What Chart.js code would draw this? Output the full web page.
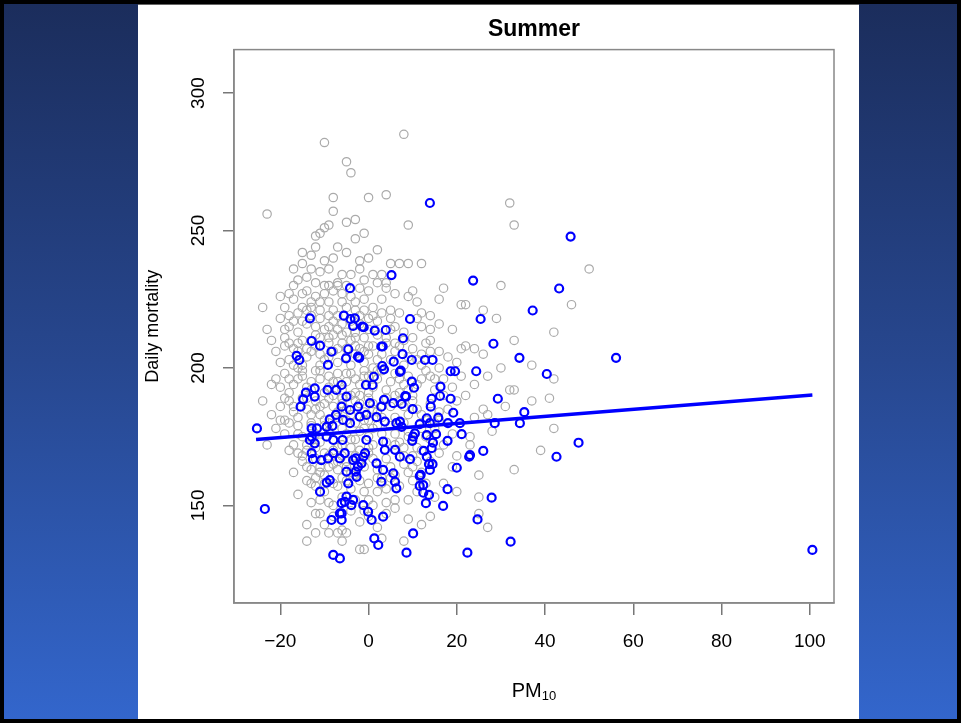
<!DOCTYPE html>
<html>
<head>
<meta charset="utf-8">
<script src="https://cdn.jsdelivr.net/npm/chart.js@4.4.0/dist/chart.umd.min.js"></script>
<style>
  html, body { margin: 0; padding: 0; }
  body { width: 961px; height: 723px; position: relative; overflow: hidden; background: #000; }
  .side { position: absolute; top: 4px; bottom: 4px; background: linear-gradient(#1b2d5c, #27478f 50%, #3366cc); }
  #left { left: 4px; width: 134px; }
  #right { left: 859px; right: 4px; }
  #panel { position: absolute; left: 138px; width: 721px; top: 4px; bottom: 4px; background: #fff; border-top: 1px solid #666; }
  #chart { position: absolute; left: 0; top: 0; }
</style>
</head>
<body>
<div class="side" id="left"></div>
<div class="side" id="right"></div>
<div id="panel"></div>
<canvas id="chart" width="961" height="723"></canvas>
<script>
// ticks
const xTicks = [-20, 0, 20, 40, 60, 80, 100];
const yTicks = [150, 200, 250, 300];

// all summer days [PM10, deaths] (grey)
const otherDays = [
  [-10,282],[8,285],[-5,275],[-4,271],[-8,262],[0,262],[4,263],[32,260],
  [-23,256],[-8,257],[-5,253],[-3,254],[-9,252],[-10,251],[9,252],[33,252],[-11,249],[-12,248],[-1,249],
  [-3,247],[-12,244],[-7,244],[-15,242],[-5,242],[0,240],[-2,239],[-10,239],[-13,241],[-8,240],[2,243],
  [-15,238],[-17,236],[-16,232],[-11,235],[-9,236],[-6,234],[-4,234],[-2,236],[1,234],[3,234],[5,238],
  [7,238],[9,238],[12,238],[50,236],[-14,233],[-7,231],[-1,232],[4,231],[-13,236],
  [-12,231],[-10,230],[-9,230],[-7,230],[-5,230],[-2,229],[0,228],[2,231],[4,229],[10,228],[17,229],
  [16,225],[30,230],[-18,227],[-17,225],[-15,227],[-13,224],[-11,224],[-9,224],[-6,224],[-24,222],
  [21,223],[22,223],[46,223],[9,226],[11,224],[26,221],[12,220],[14,219],[7,220],[-3,221],[1,222],
  [5,221],[-1,225],[3,225],[-19,222],[-16,220],[-14,221],[-8,221],[-4,226],[-20,226],[6,227],
  [29,218],[14,214],[19,214],[42,213],[33,210],[-23,214],[-22,210],[-20,218],[-18,215],[-16,213],
  [-14,216],[-12,212],[-10,214],[-8,217],[-6,212],[-4,210],[-2,216],[0,214],[2,217],[4,211],[6,215],
  [8,213],[10,211],[12,215],[-19,211],[-17,217],[-11,218],[-7,214],[-3,213],[1,219],[5,218],[-13,219],
  [-9,211],[-1,211],[16,216],[11,218],[-15,210],
  [16,206],[22,208],[21,207],[37,201],[30,200],[-21,206],[-19,208],[-18,203],[-16,206],[-14,204],
  [-12,208],[-10,203],[-8,206],[-6,209],[-4,201],[-2,207],[0,205],[2,203],[4,209],[6,206],[8,201],
  [10,207],[12,201],[14,206],[18,204],[20,202],[-17,201],[-13,206],[-11,201],[-9,209],[-7,202],
  [-5,204],[-3,208],[-1,202],[1,208],[3,205],[5,203],[7,208],[9,204],[11,203],[-15,201],[-20,202],
  [13,209],[26,205],[24,207],
  [42,196],[24,194],[32,192],[33,192],[-21,196],[-19,198],[-17,194],[-15,199],[-13,192],[-11,196],
  [-9,193],[-7,198],[-5,195],[-3,191],[-1,197],[1,193],[3,199],[5,195],[7,191],[9,197],[11,194],
  [13,199],[15,192],[17,196],[19,193],[21,197],[-18,191],[-16,196],[-14,193],[-12,199],[-10,191],
  [-8,195],[-6,192],[-4,198],[-2,194],[0,191],[2,196],[4,192],[6,198],[8,194],[10,190],[12,196],
  [14,197],[-20,193],[27,197],[-22,194],
  [41,189],[37,188],[22,190],[26,185],[27,183],[-22,183],[-20,186],[-18,188],[-16,182],[-14,185],
  [-12,188],[-10,181],[-8,186],[-6,189],[-4,183],[-2,187],[0,181],[2,184],[4,189],[6,182],[8,186],
  [10,188],[12,183],[14,187],[16,181],[18,185],[20,188],[-19,181],[-17,184],[-15,189],[-13,183],
  [-11,186],[-9,189],[-7,182],[-5,185],[-3,188],[-1,184],[1,187],[3,182],[5,186],[7,188],[9,183],
  [11,185],[13,181],[24,182],[31,186],[-24,188],
  [-19,176],[-17,172],[-21,178],[-15,175],[-13,179],[-11,173],[-9,177],[-7,171],[-5,176],[-3,174],
  [-1,178],[1,172],[3,176],[5,179],[7,173],[9,177],[11,171],[13,175],[15,178],[17,172],[19,176],
  [23,175],[42,178],[-16,179],[-14,172],[-12,176],[-10,179],[-8,174],[-6,178],[-4,171],[-2,177],
  [0,175],[2,179],[4,173],[6,176],[8,171],[10,174],[12,178],[-23,172],[28,177],[23,172],[-18,170],
  [-16,169],[-14,164],[-13,163],[-12,167],[-10,161],[-8,165],[-6,168],[-4,162],[-2,166],[0,169],
  [2,163],[4,167],[6,161],[8,165],[10,168],[12,162],[14,166],[16,169],[19,164],[39,170],[33,163],
  [-15,166],[-11,164],[-9,168],[-7,163],[-5,166],[-3,161],[-1,164],[1,167],[3,160],[5,164],[7,168],
  [9,162],[11,166],[20,168],[-17,162],[25,161],
  [17,158],[25,153],[-12,157],[-13,151],[-11,152],[-10,155],[-8,158],[-6,153],[-4,156],[-2,159],
  [0,152],[2,155],[4,151],[6,152],[7,157],[9,152],[11,155],[13,158],[15,153],[-14,159],[-9,151],
  [-5,159],[-1,155],[3,158],[10,159],[-16,154],[20,155],
  [25,147],[14,146],[9,145],[6,149],[-12,147],[-10,143],[-8,146],[-6,141],[-4,148],[-2,144],[0,146],
  [2,142],[4,147],[-14,143],[12,143],[27,142],
  [-14,137],[-12,140],[-7,140],[-6,137],[-5,140],[-2,134],[-1,134],[3,138],[8,137],
  // denser core of the cloud
  [-14,228],[-12,226],[-10,227],[-8,228],[-6,227],[-13,222],[-11,221],[-9,219],[-7,219],[-5,222],
  [-3,224],[-15,217],[-12,215],[-9,215],[-6,216],[-4,217],[-2,219],[-16,209],[-13,210],[-11,211],
  [-8,212],[-5,213],[-3,211],[-14,207],[-11,205],[-9,204],[-7,207],[-5,207],[-3,205],[-1,206],
  [-15,197],[-13,195],[-11,199],[-9,197],[-7,195],[-5,198],[-3,196],[-1,199],[-14,189],[-12,185],
  [-10,187],[-8,190],[-6,187],[-4,190],[-2,190],[-13,180],[-11,183],[-9,180],[-7,184],[-5,181],
  [-3,180],[-12,171],[-10,169],[-8,170],[-6,172],[-4,174],[-11,162],[-9,164],[-7,166],[-5,164],
  [-3,168],[-10,158],[-7,157],[-12,160],[-6,160],[-15,222],[-17,230],[-18,219],[-19,214],[-18,209],
  [-17,207],[-16,200],[-18,196],[-19,189],[-17,186],[-18,180],[-20,181],[-16,176],[-15,168],[-14,170],
  [-13,158],[-11,147],[-9,140],[-8,150],[-3,152],[-1,148],[1,150],[0,158],[2,160],[4,156],
  [5,160],[-2,170],[0,171],[1,178],[-1,181],[1,185],[0,189],[1,200],[0,197],[2,199],
  [0,208],[2,212],[0,218],[-1,221],[3,220],[5,214],[6,209],[8,210],[7,196],[9,192],
  [6,190],[8,180],[9,175],[6,172],[8,168],[10,164],[12,170],[14,174],[15,180],[16,184],
  [17,190],[15,196],[16,200],[12,205],[14,210]
];

// highlighted days (blue)
const highDays = [
  [13.9,260],[45.8,247.8],[23.7,231.8],[43.2,228.9],[37.2,220.9],[25.4,217.8],[9.4,217.8],[7.8,210.8],
  [28.3,208.8],[56.1,203.7],[34.2,203.7],[40.4,197.8],[24.4,198.8],[18.6,198.8],[19.6,198.8],[9.8,202.9],
  [12.8,202.9],[14.5,202.9],[7.7,205],[7.1,198.6],[9.8,195],[10.3,192.8],[16.3,193.2],[8.3,189.8],
  [14.3,188.8],[18.6,188.8],[16.2,189.8],[29.3,188.8],[10,185],[14.1,185.9],[19.2,183.7],[35.3,183.9],
  [7.1,180.5],[11.6,179.6],[13.9,179.9],[15.8,181.9],[18,179.9],[20.7,179.9],[28.6,179.9],[34.3,179.9],
  [10.5,176.2],[15.3,175.9],[21.1,175.9],[9.9,173.5],[14.6,172.8],[17.9,173.5],[47.6,172.8],[12.5,169.8],
  [14.3,170.8],[26,169.8],[22.8,167.7],[42.6,167.7],[9.4,166.8],[13.7,165],[14.5,165],[13.9,162.9],
  [20,163.7],[11.6,160.7],[11.6,157.1],[12.4,154.6],[13.7,153.8],[17.9,155.9],[13,150.8],[16.9,149.8],
  [27.9,152.8],[24.7,144.9],[10.1,139.8],[32.2,136.8],[8.6,132.8],[22.4,132.8],[100.6,133.8],
  [5.2,233.8],[-4.2,229],[-13.3,218],[-5.6,219],[-4.1,217.8],[-3.5,215.3],[-1.1,214.8],[1.4,213.6],
  [3.9,213.8],[3.2,207.8],[-12.9,209.8],[-11,208.1],[-8.4,205.9],[-4.6,206.8],[-5.1,203.5],[-2.1,203.7],
  [-16.3,204.4],[-15.7,202.9],[-9.2,201.1],[3.1,200.7],[3.5,199.5],[5.7,202.3],[7.3,199],[1.2,196.8],
  [0.9,193.8],[-0.6,193.8],[-12.2,192.6],[-14.2,191],[-14.8,188.6],[-15.4,185.9],[-12.2,189.6],[-9.3,192],
  [-7.3,192],[-6.1,193.8],[-5,189.6],[3.5,188.4],[5.6,187.2],[7.5,186.9],[8.5,189.6],[-6.1,185.9],
  [-4.2,184.7],[-2.4,185.9],[0.3,187.2],[2.9,185.9],[-7.4,182.9],[-8.8,181.3],[-5.8,181.1],[-4.2,179.9],
  [-2,182.3],[-0.5,182.9],[1.8,182.1],[3.7,180.5],[6.3,179.9],[7.5,178.6],[13.2,181.7],[-25.3,178],
  [-12.9,178],[-11.7,178],[-9.5,178.6],[-8.2,178.9],[-13.3,173.8],[-12.2,172.6],[-12.9,175],[-9.5,175],
  [-8,173.8],[-5.9,173.8],[-0.5,173.8],[3.3,173.2],[3.7,170.2],[6,170.2],[7.1,167.7],[10.1,175],
  [13.2,175.6],[23,168.3],[-12.9,169],[-12.6,166.8],[-10.7,166.5],[-9.2,167.1],[-8,169],[-6.5,167.1],
  [-5.4,169],[-3.5,166.5],[-2.9,167.1],[-0.8,169],[-1.2,167.7],[-1.6,165.3],[-2.4,164.1],[-2.9,162.3],
  [-2.7,160.4],[1.8,165.3],[3.3,162.9],[2.9,158.6],[5.6,161.7],[6,158.6],[6.3,156.2],[11.8,161.1],
  [12.4,157.4],[13.2,167.7],[-5,162.3],[-4.6,158],[-5,153.2],[-5.4,151.3],[-3.5,152],[-3.9,150.1],
  [-6.1,150.8],[-6.5,147.1],[-6.1,144.7],[-8.4,144.7],[-8.8,159.2],[-9.5,158.3],[-11,155],[-1.2,150.1],
  [-0.1,147.7],[0.7,144.7],[3.3,145.9],[1.3,138],[2.2,135.6],[-8,132],[-6.5,130.7],[-23.5,148.7],
  [-1.4,215],[-3.1,218],[2.9,207.8],[-2.4,204.1],[-6.1,147.1]
];

// fitted line ends
const fitX = [-25.5, 100.6];
const fitY = [174.0, 190.2];

const toPts = arr => arr.map(p => ({ x: p[0], y: p[1] }));
const minus = v => (v < 0 ? '\u2212' + Math.abs(v) : String(v));

// box round the plot + PM10 label with subscript
const framePlugin = {
  id: 'frame',
  afterDraw(chart) {
    const { ctx, chartArea: a } = chart;
    ctx.save();
    ctx.strokeStyle = '#888';
    ctx.lineWidth = 1.5;
    ctx.strokeRect(a.left, a.top, a.right - a.left, a.bottom - a.top);
    ctx.fillStyle = '#000';
    ctx.textBaseline = 'alphabetic';
    ctx.font = '20px "Liberation Sans", Arial, sans-serif';
    const w1 = ctx.measureText('PM').width;
    ctx.font = '13px "Liberation Sans", Arial, sans-serif';
    const w2 = ctx.measureText('10').width;
    const x0 = (a.left + a.right) / 2 - (w1 + w2) / 2;
    ctx.font = '20px "Liberation Sans", Arial, sans-serif';
    ctx.fillText('PM', x0, 697);
    ctx.font = '13px "Liberation Sans", Arial, sans-serif';
    ctx.fillText('10', x0 + w1, 700);
    ctx.restore();
  }
};

new Chart(document.getElementById('chart'), {
  type: 'scatter',
  data: {
    datasets: [
      {
        data: fitX.map((x, i) => ({ x: x, y: fitY[i] })),
        showLine: true,
        borderColor: '#0000ff',
        borderWidth: 3.5,
        pointRadius: 0,
        order: 0
      },
      {
        data: toPts(highDays),
        borderColor: '#0000ff',
        backgroundColor: 'rgba(0,0,0,0)',
        borderWidth: 2.2,
        pointRadius: 4,
        order: 1
      },
      {
        data: toPts(otherDays),
        borderColor: '#aaaaaa',
        backgroundColor: 'rgba(0,0,0,0)',
        borderWidth: 1.2,
        pointRadius: 4.2,
        order: 2
      }
    ]
  },
  options: {
    responsive: false,
    animation: false,
    layout: { padding: { left: 0, right: 127, top: 0, bottom: 0 } },
    plugins: {
      legend: { display: false },
      tooltip: { enabled: false },
      title: {
        display: true,
        text: 'Summer',
        fullSize: false,
        color: '#000',
        font: { family: '"Liberation Sans", Arial, sans-serif', size: 23, weight: 'bold' },
        padding: { top: 16, bottom: 6 }
      }
    },
    scales: {
      x: {
        type: 'linear',
        min: -30.5,
        max: 105.5,
        afterBuildTicks: s => { s.ticks = xTicks.map(v => ({ value: v })); },
        afterFit: s => { s.height = 120; },
        grid: { drawOnChartArea: false, drawTicks: true, tickLength: 12, color: '#777', lineWidth: 1.5 },
        border: { display: true, color: '#888', width: 1.5 },
        ticks: {
          color: '#000',
          padding: 15,
          maxRotation: 0,
          font: { family: '"Liberation Sans", Arial, sans-serif', size: 19 },
          callback: v => minus(v)
        }
      },
      y: {
        type: 'linear',
        min: 114.5,
        max: 315.8,
        afterBuildTicks: s => { s.ticks = yTicks.map(v => ({ value: v })); },
        afterFit: s => { s.width = 234; },
        grid: { drawOnChartArea: false, drawTicks: true, tickLength: 11, color: '#777', lineWidth: 1.5 },
        border: { display: true, color: '#888', width: 1.5 },
        ticks: {
          color: '#000',
          padding: 8,
          minRotation: 90,
          maxRotation: 90,
          crossAlign: 'center',
          font: { family: '"Liberation Sans", Arial, sans-serif', size: 19 },
          callback: v => String(v)
        },
        title: {
          display: true,
          text: 'Daily mortality',
          color: '#000',
          font: { family: '"Liberation Sans", Arial, sans-serif', size: 18 },
          padding: { top: 142, bottom: 0 }
        }
      }
    }
  },
  plugins: [framePlugin]
});
</script>
</body>
</html>
